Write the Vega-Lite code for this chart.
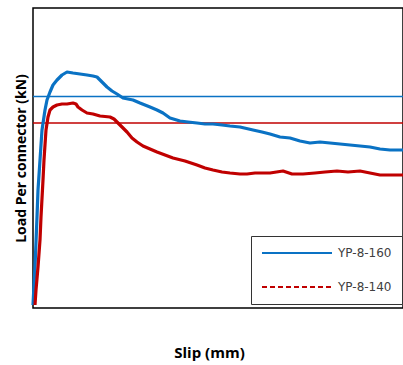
{
  "$schema": "https://vega.github.io/schema/vega-lite/v6.json",
  "width": 370,
  "height": 300,
  "autosize": {"type": "none"},
  "padding": {"left": 33, "top": 8, "right": 0, "bottom": 57},
  "background": "white",
  "config": {
    "view": {"stroke": "black", "strokeWidth": 1.5},
    "font": "Open Sans"
  },
  "datasets": {
    "curves": [
      {"series": "YP-8-160", "slip": 0.0, "load": 1.5},
      {"series": "YP-8-160", "slip": 0.1, "load": 11.5},
      {"series": "YP-8-160", "slip": 0.2, "load": 20.5},
      {"series": "YP-8-160", "slip": 0.4, "load": 45.5},
      {"series": "YP-8-160", "slip": 0.5, "load": 59},
      {"series": "YP-8-160", "slip": 0.7, "load": 74},
      {"series": "YP-8-160", "slip": 0.9, "load": 89},
      {"series": "YP-8-160", "slip": 1.2, "load": 99},
      {"series": "YP-8-160", "slip": 1.4, "load": 104},
      {"series": "YP-8-160", "slip": 1.7, "load": 108},
      {"series": "YP-8-160", "slip": 2.0, "load": 111.5},
      {"series": "YP-8-160", "slip": 2.4, "load": 114},
      {"series": "YP-8-160", "slip": 2.9, "load": 116.5},
      {"series": "YP-8-160", "slip": 3.4, "load": 118},
      {"series": "YP-8-160", "slip": 4.0, "load": 117.5},
      {"series": "YP-8-160", "slip": 4.7, "load": 117},
      {"series": "YP-8-160", "slip": 5.4, "load": 116.5},
      {"series": "YP-8-160", "slip": 6.0, "load": 116},
      {"series": "YP-8-160", "slip": 6.4, "load": 115.5},
      {"series": "YP-8-160", "slip": 6.9, "load": 113},
      {"series": "YP-8-160", "slip": 7.4, "load": 110.5},
      {"series": "YP-8-160", "slip": 7.9, "load": 108.5},
      {"series": "YP-8-160", "slip": 8.4, "load": 107},
      {"series": "YP-8-160", "slip": 9.0, "load": 105},
      {"series": "YP-8-160", "slip": 9.5, "load": 104.5},
      {"series": "YP-8-160", "slip": 10.0, "load": 104},
      {"series": "YP-8-160", "slip": 10.7, "load": 102.5},
      {"series": "YP-8-160", "slip": 11.7, "load": 100.5},
      {"series": "YP-8-160", "slip": 12.4, "load": 99},
      {"series": "YP-8-160", "slip": 13.0, "load": 97.5},
      {"series": "YP-8-160", "slip": 13.7, "load": 95},
      {"series": "YP-8-160", "slip": 14.7, "load": 93.5},
      {"series": "YP-8-160", "slip": 15.5, "load": 93},
      {"series": "YP-8-160", "slip": 16.4, "load": 92.5},
      {"series": "YP-8-160", "slip": 17.2, "load": 92},
      {"series": "YP-8-160", "slip": 18.0, "load": 92},
      {"series": "YP-8-160", "slip": 18.9, "load": 91.5},
      {"series": "YP-8-160", "slip": 19.7, "load": 91},
      {"series": "YP-8-160", "slip": 20.7, "load": 90.5},
      {"series": "YP-8-160", "slip": 22.0, "load": 89},
      {"series": "YP-8-160", "slip": 22.9, "load": 88},
      {"series": "YP-8-160", "slip": 23.7, "load": 87},
      {"series": "YP-8-160", "slip": 24.7, "load": 85.5},
      {"series": "YP-8-160", "slip": 25.7, "load": 85},
      {"series": "YP-8-160", "slip": 26.7, "load": 83.5},
      {"series": "YP-8-160", "slip": 27.7, "load": 82.5},
      {"series": "YP-8-160", "slip": 28.7, "load": 83},
      {"series": "YP-8-160", "slip": 29.7, "load": 82.5},
      {"series": "YP-8-160", "slip": 30.7, "load": 82},
      {"series": "YP-8-160", "slip": 31.7, "load": 81.5},
      {"series": "YP-8-160", "slip": 32.7, "load": 81},
      {"series": "YP-8-160", "slip": 33.7, "load": 80.5},
      {"series": "YP-8-160", "slip": 34.7, "load": 79.5},
      {"series": "YP-8-160", "slip": 35.7, "load": 79},
      {"series": "YP-8-160", "slip": 37.0, "load": 79},
      {"series": "YP-8-140", "slip": 0.2, "load": 1.5},
      {"series": "YP-8-140", "slip": 0.3, "load": 9},
      {"series": "YP-8-140", "slip": 0.5, "load": 20.5},
      {"series": "YP-8-140", "slip": 0.7, "load": 34},
      {"series": "YP-8-140", "slip": 0.8, "load": 45.5},
      {"series": "YP-8-140", "slip": 1.0, "load": 64},
      {"series": "YP-8-140", "slip": 1.1, "load": 74},
      {"series": "YP-8-140", "slip": 1.2, "load": 81.5},
      {"series": "YP-8-140", "slip": 1.3, "load": 89},
      {"series": "YP-8-140", "slip": 1.5, "load": 95.5},
      {"series": "YP-8-140", "slip": 1.7, "load": 99},
      {"series": "YP-8-140", "slip": 2.0, "load": 100.5},
      {"series": "YP-8-140", "slip": 2.4, "load": 101.5},
      {"series": "YP-8-140", "slip": 2.9, "load": 102},
      {"series": "YP-8-140", "slip": 3.4, "load": 102},
      {"series": "YP-8-140", "slip": 4.0, "load": 102.5},
      {"series": "YP-8-140", "slip": 4.3, "load": 102},
      {"series": "YP-8-140", "slip": 4.5, "load": 100.5},
      {"series": "YP-8-140", "slip": 4.9, "load": 99},
      {"series": "YP-8-140", "slip": 5.4, "load": 97.5},
      {"series": "YP-8-140", "slip": 6.0, "load": 97},
      {"series": "YP-8-140", "slip": 6.7, "load": 96},
      {"series": "YP-8-140", "slip": 7.7, "load": 95.5},
      {"series": "YP-8-140", "slip": 8.1, "load": 94.5},
      {"series": "YP-8-140", "slip": 8.4, "load": 93},
      {"series": "YP-8-140", "slip": 8.9, "load": 90.5},
      {"series": "YP-8-140", "slip": 9.4, "load": 88},
      {"series": "YP-8-140", "slip": 9.9, "load": 85},
      {"series": "YP-8-140", "slip": 10.4, "load": 83},
      {"series": "YP-8-140", "slip": 11.0, "load": 81},
      {"series": "YP-8-140", "slip": 11.7, "load": 79.5},
      {"series": "YP-8-140", "slip": 12.4, "load": 78},
      {"series": "YP-8-140", "slip": 13.2, "load": 76.5},
      {"series": "YP-8-140", "slip": 14.0, "load": 75},
      {"series": "YP-8-140", "slip": 15.2, "load": 73.5},
      {"series": "YP-8-140", "slip": 16.4, "load": 71.5},
      {"series": "YP-8-140", "slip": 17.2, "load": 70},
      {"series": "YP-8-140", "slip": 18.0, "load": 69},
      {"series": "YP-8-140", "slip": 18.9, "load": 68},
      {"series": "YP-8-140", "slip": 19.7, "load": 67.5},
      {"series": "YP-8-140", "slip": 20.7, "load": 67},
      {"series": "YP-8-140", "slip": 21.4, "load": 67},
      {"series": "YP-8-140", "slip": 22.2, "load": 67.5},
      {"series": "YP-8-140", "slip": 23.0, "load": 67.5},
      {"series": "YP-8-140", "slip": 23.7, "load": 67.5},
      {"series": "YP-8-140", "slip": 25.0, "load": 68.5},
      {"series": "YP-8-140", "slip": 25.9, "load": 67},
      {"series": "YP-8-140", "slip": 27.0, "load": 67},
      {"series": "YP-8-140", "slip": 28.2, "load": 67.5},
      {"series": "YP-8-140", "slip": 29.2, "load": 68},
      {"series": "YP-8-140", "slip": 30.4, "load": 68.5},
      {"series": "YP-8-140", "slip": 31.5, "load": 68},
      {"series": "YP-8-140", "slip": 32.7, "load": 68.5},
      {"series": "YP-8-140", "slip": 33.7, "load": 67.5},
      {"series": "YP-8-140", "slip": 34.7, "load": 66.5},
      {"series": "YP-8-140", "slip": 35.7, "load": 66.5},
      {"series": "YP-8-140", "slip": 37.0, "load": 66.5}
    ],
    "levels": [
      {"series": "YP-8-160", "load": 105.75},
      {"series": "YP-8-140", "load": 92.5}
    ]
  },
  "layer": [
    {
      "data": {"name": "levels"},
      "mark": {"type": "rule", "strokeWidth": 1.5},
      "encoding": {
        "y": {"field": "load", "type": "quantitative", "scale": {"domain": [0, 150]}},
        "color": {"field": "series", "type": "nominal", "scale": {"domain": ["YP-8-160", "YP-8-140"], "range": ["#0A72C4", "#C00000"]}}
      }
    },
    {
      "data": {"name": "curves"},
      "mark": {"type": "line", "strokeWidth": 3.2, "strokeJoin": "round"},
      "encoding": {
        "x": {
          "field": "slip", "type": "quantitative",
          "scale": {"domain": [0, 37], "nice": false},
          "axis": {"domain": false, "ticks": false, "labels": false, "grid": false,
                   "title": "Slip (mm)", "titleFontSize": 15, "titleFontWeight": "bold", "titleColor": "black",
                   "titlePadding": 37, "titleX": 176}
        },
        "y": {
          "field": "load", "type": "quantitative",
          "scale": {"domain": [0, 150], "nice": false},
          "axis": {"domain": false, "ticks": false, "labels": false, "grid": false,
                   "title": "Load Per connector (kN)", "titleFontSize": 14, "titleFontWeight": "bold", "titleColor": "black",
                   "titlePadding": 5}
        },
        "color": {
          "field": "series", "type": "nominal",
          "scale": {"domain": ["YP-8-160", "YP-8-140"], "range": ["#0A72C4", "#C00000"]},
          "legend": {
            "title": null, "orient": "none", "legendX": 218, "legendY": 228,
            "symbolType": "stroke", "symbolSize": 4900, "symbolStrokeWidth": 2,
            "labelFont": "DejaVu Sans", "labelFontSize": 12, "labelColor": "#404040", "labelOffset": 5,
            "clipHeight": 14,
            "padding": 10, "rowPadding": 20, "strokeColor": "#333333",
            "fillColor": "white",
            "encode": {"symbols": {"update": {"strokeDash": {"signal": "datum.value === 'YP-8-140' ? [5, 3] : [1, 0]"}}}}
          }
        },
        "order": {"field": "slip", "type": "quantitative"}
      }
    }
  ]
}
